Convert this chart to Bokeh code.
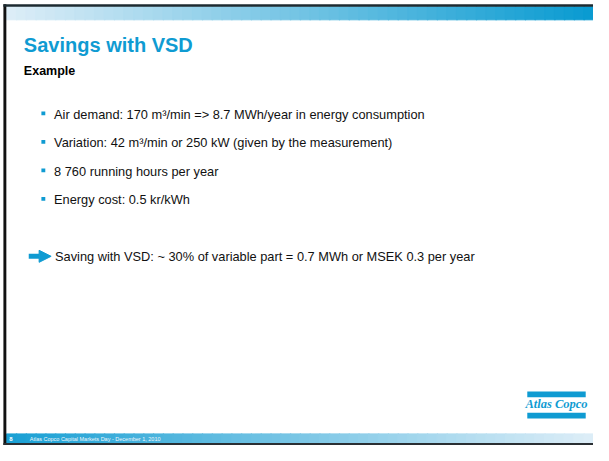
import numpy as np
from bokeh.plotting import figure
from bokeh.models import Range1d, ColumnDataSource, Arrow, NormalHead
from bokeh.core.properties import value
from bokeh.embed import file_html
from bokeh.resources import INLINE

# ---- slide content ----
title = "Savings with VSD"
subtitle = "Example"
bullets = [
    "Air demand: 170 m\u00b3/min => 8.7 MWh/year in energy consumption",
    "Variation: 42 m\u00b3/min or 250 kW (given by the measurement)",
    "8 760 running hours per year",
    "Energy cost: 0.5 kr/kWh",
]
bullet_centers = [118, 147.5, 177, 206.5]
conclusion = "Saving with VSD: ~ 30% of variable part = 0.7 MWh or MSEK 0.3 per year"
logo_text = "Atlas Copco"
page_number = "8"
footer_text = "Atlas Copco Capital Markets Day - December 1, 2010"

BLUE = "#0f9bd2"
FONT = "Liberation Sans"

W, H = 609, 461
p = figure(width=593, height=445, x_range=Range1d(0, W), y_range=Range1d(H, 0),
           output_backend="svg", toolbar_location=None, min_border=0,
           x_axis_type=None, y_axis_type=None)
p.grid.visible = False
p.outline_line_color = None
p.background_fill_color = "white"
p.border_fill_color = "white"


def lerp_colors(c1, c2, n):
    a = np.array([int(c1[i:i + 2], 16) for i in (1, 3, 5)], float)
    b = np.array([int(c2[i:i + 2], 16) for i in (1, 3, 5)], float)
    out = []
    for t in np.linspace(0, 1, n):
        c = a + (b - a) * t
        out.append("#%02x%02x%02x" % tuple(int(round(v)) for v in c))
    return out


def gradient_band(x0, x1, y0, y1, c_left, c_right, n=60):
    edges = np.linspace(x0, x1, n + 1)
    cols = lerp_colors(c_left, c_right, n)
    p.quad(left=edges[:-1], right=edges[1:] + 1.0, top=[y0] * n, bottom=[y1] * n,
           fill_color=cols, line_color=cols, line_width=1)


# top band and footer band
gradient_band(6, W, 6.5, 20, "#dcedf7", "#0a9bd1")
gradient_band(6, W, 449, 458.5, "#1aa0d4", "#dcedf7")

# dark frame lines
p.quad(left=[3], right=[6], top=[4], bottom=[H], fill_color="#111111", line_color=None)
p.quad(left=[3], right=[W], top=[4], bottom=[6.5], fill_color="#1c2a30", line_color=None)
p.quad(left=[3], right=[W], top=[458.5], bottom=[H], fill_color="#2a2f33", line_color=None)

# title and subtitle
p.text(x=[24], y=[46.5], text=[title], text_font=value(FONT), text_font_style="bold",
       text_font_size="20px", text_color=BLUE, text_baseline="middle")
p.text(x=[24], y=[73.5], text=[subtitle], text_font=value(FONT), text_font_style="bold",
       text_font_size="12.5px", text_color="black", text_baseline="middle")

# bullets
src = ColumnDataSource(dict(x=[55] * len(bullets), y=bullet_centers, text=bullets,
                            bx=[44] * len(bullets), by=[c - 1 for c in bullet_centers]))
p.rect(x="bx", y="by", width=4, height=4, source=src, fill_color=BLUE, line_color=None)
p.text(x="x", y="y", text="text", source=src, text_font=value(FONT),
       text_font_size="12.8px", text_color="#111111", text_baseline="middle")

# conclusion arrow + text
p.add_layout(Arrow(end=NormalHead(size=12, fill_color=BLUE, line_color=BLUE, line_width=1),
                   x_start=29, y_start=265, x_end=52, y_end=265,
                   line_color=BLUE, line_width=5))
p.text(x=[56], y=[265], text=[conclusion], text_font=value(FONT),
       text_font_size="12.8px", text_color="#111111", text_baseline="middle")

# logo
p.quad(left=[541, 541], right=[601, 601], top=[405, 427], bottom=[411, 433],
       fill_color=BLUE, line_color=None)
p.text(x=[571], y=[418.5], text=[logo_text], text_font=value("Liberation Serif"),
       text_font_style="bold italic", text_font_size="12.5px", text_color=BLUE,
       text_align="center", text_baseline="middle")

# footer
p.text(x=[9], y=[454], text=[page_number], text_font=value(FONT), text_font_style="bold",
       text_font_size="6px", text_color="white", text_baseline="middle")
p.text(x=[30], y=[454], text=[footer_text], text_font=value(FONT),
       text_font_size="5.5px", text_color="#eef6fb", text_baseline="middle")

open("out.html", "w").write(file_html(p, INLINE))
